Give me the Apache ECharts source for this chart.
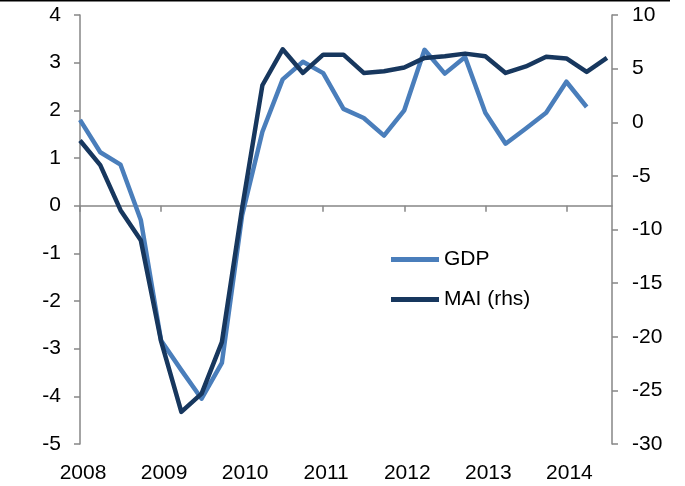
<!DOCTYPE html>
<html>
<head>
<meta charset="utf-8">
<script src="https://cdn.jsdelivr.net/npm/echarts@6/dist/echarts.min.js"></script>
<style>
  html, body { margin: 0; padding: 0; background: #fff; }
  #chart { width: 685px; height: 486px; }
</style>
</head>
<body>
<div id="chart"></div>
<script>
  // quarterly, 2008Q1 ..
  var years = ['2008', '2009', '2010', '2011', '2012', '2013', '2014'];
  var gdp = [1.8, 1.12, 0.86, -0.3, -2.83, -3.45, -4.05, -3.3, -0.2, 1.55, 2.65, 3.02, 2.78,
    2.03, 1.84, 1.47, 2.0, 3.27, 2.77, 3.12, 1.95, 1.3, 1.62, 1.95, 2.6, 2.07];
  var mai = [-1.7, -4.0, -8.2, -11.0, -20.4, -27.0, -25.3, -20.5, -8.0, 3.45, 6.8, 4.6, 6.3,
    6.3, 4.6, 4.75, 5.1, 6.0, 6.15, 6.4, 6.15, 4.6, 5.2, 6.1, 5.95, 4.7, 6.0];
  var yearTicks = [0, 4, 8, 12, 16, 20, 24];

  var axisGray = '#868686';
  var font = 'Liberation Sans, Arial, sans-serif';

  var chart = echarts.init(document.getElementById('chart'));
  chart.setOption({
    backgroundColor: '#fff',
    animation: false,
    textStyle: { fontFamily: font },
    grid: { left: 80, right: 73, top: 15, bottom: 42 },
    graphic: [{
      type: 'line',
      shape: { x1: 0, y1: 0.5, x2: 670, y2: 0.5 },
      style: { stroke: '#000', lineWidth: 2 }
    }],
    legend: {
      orient: 'vertical',
      left: 386,
      top: 244,
      itemWidth: 48,
      itemHeight: 5,
      itemGap: 19,
      icon: 'rect',
      textStyle: { fontSize: 21, color: '#000', fontFamily: font },
      data: ['GDP', 'MAI (rhs)']
    },
    xAxis: [
      {
        type: 'value',
        position: 'bottom',
        min: 0,
        max: 26.25,
        axisLine: { show: false, onZero: false },
        axisTick: { show: false },
        splitLine: { show: false },
        axisLabel: {
          customValues: yearTicks,
          formatter: function (v) { return years[Math.round(v / 4)]; },
          fontSize: 21,
          color: '#000',
          margin: 19,
          padding: [0, 0, 0, 6]
        }
      },
      {
        type: 'value',
        position: 'top',
        min: 0,
        max: 26.25,
        axisLine: { show: true, onZero: true, onZeroAxisIndex: 0, lineStyle: { color: axisGray, width: 1.5 } },
        axisTick: { show: true, inside: true, length: 6, customValues: yearTicks, lineStyle: { color: axisGray, width: 1.5 } },
        axisLabel: { show: false },
        splitLine: { show: false }
      }
    ],
    yAxis: [
      {
        type: 'value',
        position: 'left',
        min: -5,
        max: 4,
        interval: 1,
        axisLine: { show: true, onZero: false, lineStyle: { color: axisGray, width: 1.5 } },
        axisTick: { show: true, length: 6, lineStyle: { color: axisGray, width: 1.5 } },
        splitLine: { show: false },
        axisLabel: { fontSize: 21, color: '#000', margin: 19 }
      },
      {
        type: 'value',
        position: 'right',
        min: -30,
        max: 10,
        interval: 5,
        axisLine: { show: true, onZero: false, lineStyle: { color: axisGray, width: 1.5 } },
        axisTick: { show: true, length: 6, lineStyle: { color: axisGray, width: 1.5 } },
        splitLine: { show: false },
        axisLabel: { fontSize: 21, color: '#000', margin: 20 }
      }
    ],
    series: [
      {
        name: 'GDP',
        type: 'line',
        xAxisIndex: 0,
        yAxisIndex: 0,
        symbol: 'none',
        lineStyle: { color: '#4a7ebb', width: 4.5, join: 'round' },
        itemStyle: { color: '#4a7ebb' },
        data: gdp.map(function (v, i) { return [i, v]; })
      },
      {
        name: 'MAI (rhs)',
        type: 'line',
        xAxisIndex: 0,
        yAxisIndex: 1,
        symbol: 'none',
        lineStyle: { color: '#17375e', width: 4.5, join: 'round' },
        itemStyle: { color: '#17375e' },
        data: mai.map(function (v, i) { return [i, v]; })
      }
    ]
  });
</script>
</body>
</html>
